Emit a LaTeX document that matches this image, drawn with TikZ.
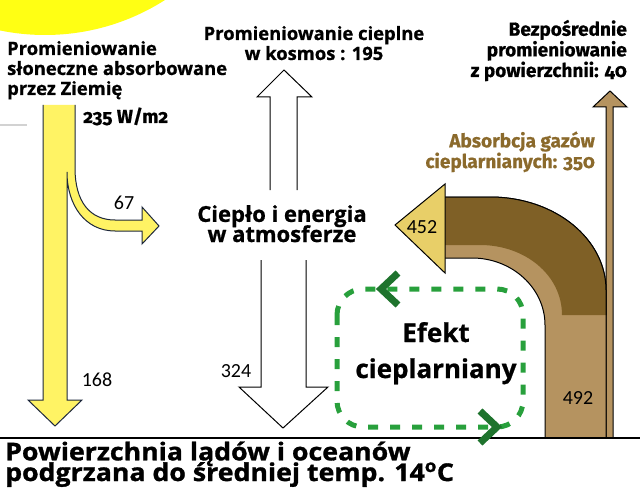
\documentclass[tikz,border=0pt]{standalone}
\usepackage{fontspec}
\setmainfont{Open Sans}
\newfontfamily\hfont[Numbers=OldStyle,BoldFeatures={FakeBold=0.6}]{Fira Sans}
\newfontfamily\ofont[BoldFeatures={FakeBold=0.8}]{Open Sans}
\newfontfamily\cfont[FakeStretch=1.09,BoldFeatures={FakeBold=1.2}]{Open Sans}
\newfontfamily\nfont{Carlito}
\definecolor{sunY}{RGB}{255,255,20}
\definecolor{arrY}{RGB}{255,243,100}
\definecolor{arrLine}{RGB}{30,40,60}
\definecolor{tanB}{RGB}{181,147,96}
\definecolor{darkB}{RGB}{127,96,38}
\definecolor{headY}{RGB}{232,207,104}
\definecolor{labB}{RGB}{139,106,44}
\definecolor{gDash}{RGB}{40,160,60}
\definecolor{gChev}{RGB}{30,115,45}
\tikzset{
  yarrow/.style={fill=arrY,draw=arrLine,line width=1pt,line join=miter},
  warrow/.style={fill=white,draw=black,line width=1pt},
  barrow/.style={fill=tanB,draw=black,line width=1pt},
  htext/.style={font=\hfont\bfseries\fontsize{19}{19.5}\selectfont,inner sep=0pt},
  otext/.style={font=\ofont\bfseries\fontsize{18.4}{20}\selectfont,inner sep=0pt},
  num/.style={font=\nfont\fontsize{20}{22}\selectfont,inner sep=0pt,anchor=base},
  gloop/.style={draw=gDash,line width=5pt,dash pattern=on 10pt off 12pt,rounded corners=26pt},
  chev/.style={draw=gChev,line width=7pt,line cap=butt,line join=miter}
}
\begin{document}
\begin{tikzpicture}[x=1pt,y=-1pt]
\useasboundingbox (0,0) rectangle (640,492);
\fill[white] (0,0) rectangle (640,492);
% sun
\begin{scope}
\clip (0,0) rectangle (640,492);
\fill[sunY] (45,-188) circle[radius=223pt];
\end{scope}
\draw[gray!35,line width=1.5pt] (0,125) -- (27,125);
% yellow arrow with branch 67
\filldraw[yarrow] (75,105) -- (75,168) .. controls (75,202) and (90,220) .. (115,220)
  -- (142,220) -- (142,207) -- (159,226) -- (142,244) -- (142,231) -- (115,231)
  .. controls (85,231) and (67,205) .. (67,172) -- (67,400) -- (82,400) -- (55,426)
  -- (28,400) -- (43,400) -- (43,105);
% white arrows
\filldraw[warrow] (270,190) -- (270,97) -- (257,97) -- (284,70) -- (312,97) -- (297,97) -- (297,190);
\filldraw[warrow] (261,260) -- (261,387) -- (239,387) -- (283,428) -- (328,387) -- (306,387) -- (306,260);
% thin brown arrow 40
\filldraw[barrow] (606,438) -- (606,107) -- (593,107) -- (610,91) -- (627,107) -- (613,107) -- (613,438);
% big band 492
\filldraw[barrow] (545,438) -- (545,325) .. controls (545,288) and (512,258) .. (472,258) -- (440,258)
  -- (440,197) -- (490,197) .. controls (555,197) and (606,239) .. (606,290) -- (606,438);
% dark band 350
\fill[darkB] (440,197) -- (490,197) .. controls (555,197) and (606,239) .. (606,290) -- (606,315)
  -- (562,315) .. controls (562,275) and (525,245) .. (480,245) -- (440,245) -- cycle;
\draw[black,line width=1pt] (440,197) -- (490,197) .. controls (555,197) and (606,239) .. (606,290) -- (606,315);
% arrow head 452
\filldraw[fill=headY,draw=black,line width=1pt] (445,184) -- (395,225) -- (445,273) -- cycle;
% base line
\draw[black,line width=2pt] (0,438) -- (640,438);
% greenhouse loop
\draw[gloop] (337,289) rectangle (523,427);
\draw[chev] (398,273) -- (381,289) -- (398,305);
\draw[chev] (480,411) -- (497,427) -- (480,443);
% texts
\node[otext,align=left,anchor=base west] (t1) at (7,95) {Promieniowanie\\słoneczne absorbowane\\przez Ziemię};
\node[otext,align=center,anchor=base] (t2) at (314,60) {Promieniowanie cieplne\\w kosmos : 195};
\node[htext,align=right,anchor=base east] (t3) at (627,77) {Bezpośrednie\\promieniowanie\\z powierzchnii: 40};
\node[htext,anchor=base west] (t4) at (83,123) {235 W/m2};
\node[htext,align=right,anchor=base east,text=labB] (t5) at (595,168) {Absorbcja gazów\\cieplarnianych: 350};
\node[font=\ofont\bfseries\fontsize{22}{20}\selectfont,inner sep=0pt,align=center,anchor=base] (t6) at (282,242) {Ciepło i energia\\[-3pt]w atmosferze};
\node[font=\ofont\bfseries\fontsize{26}{36}\selectfont,inner sep=0pt,align=center,anchor=base] (t7) at (436,378) {Efekt\\cieplarniany};
\node[font=\cfont\bfseries\fontsize{24.5}{18}\selectfont,inner sep=0pt,align=left,anchor=base west] (t8) at (5,481) {Powierzchnia lądów i oceanów\\[-5pt]podgrzana do średniej temp. 14\textsuperscript{o}C};
\node[num] (n67) at (124,209) {67};
\node[num] (n168) at (97,386) {168};
\node[num] (n324) at (236,377) {324};
\node[num] (n452) at (422,233) {452};
\node[num] (n492) at (578,404) {492};
\end{tikzpicture}
\end{document}
